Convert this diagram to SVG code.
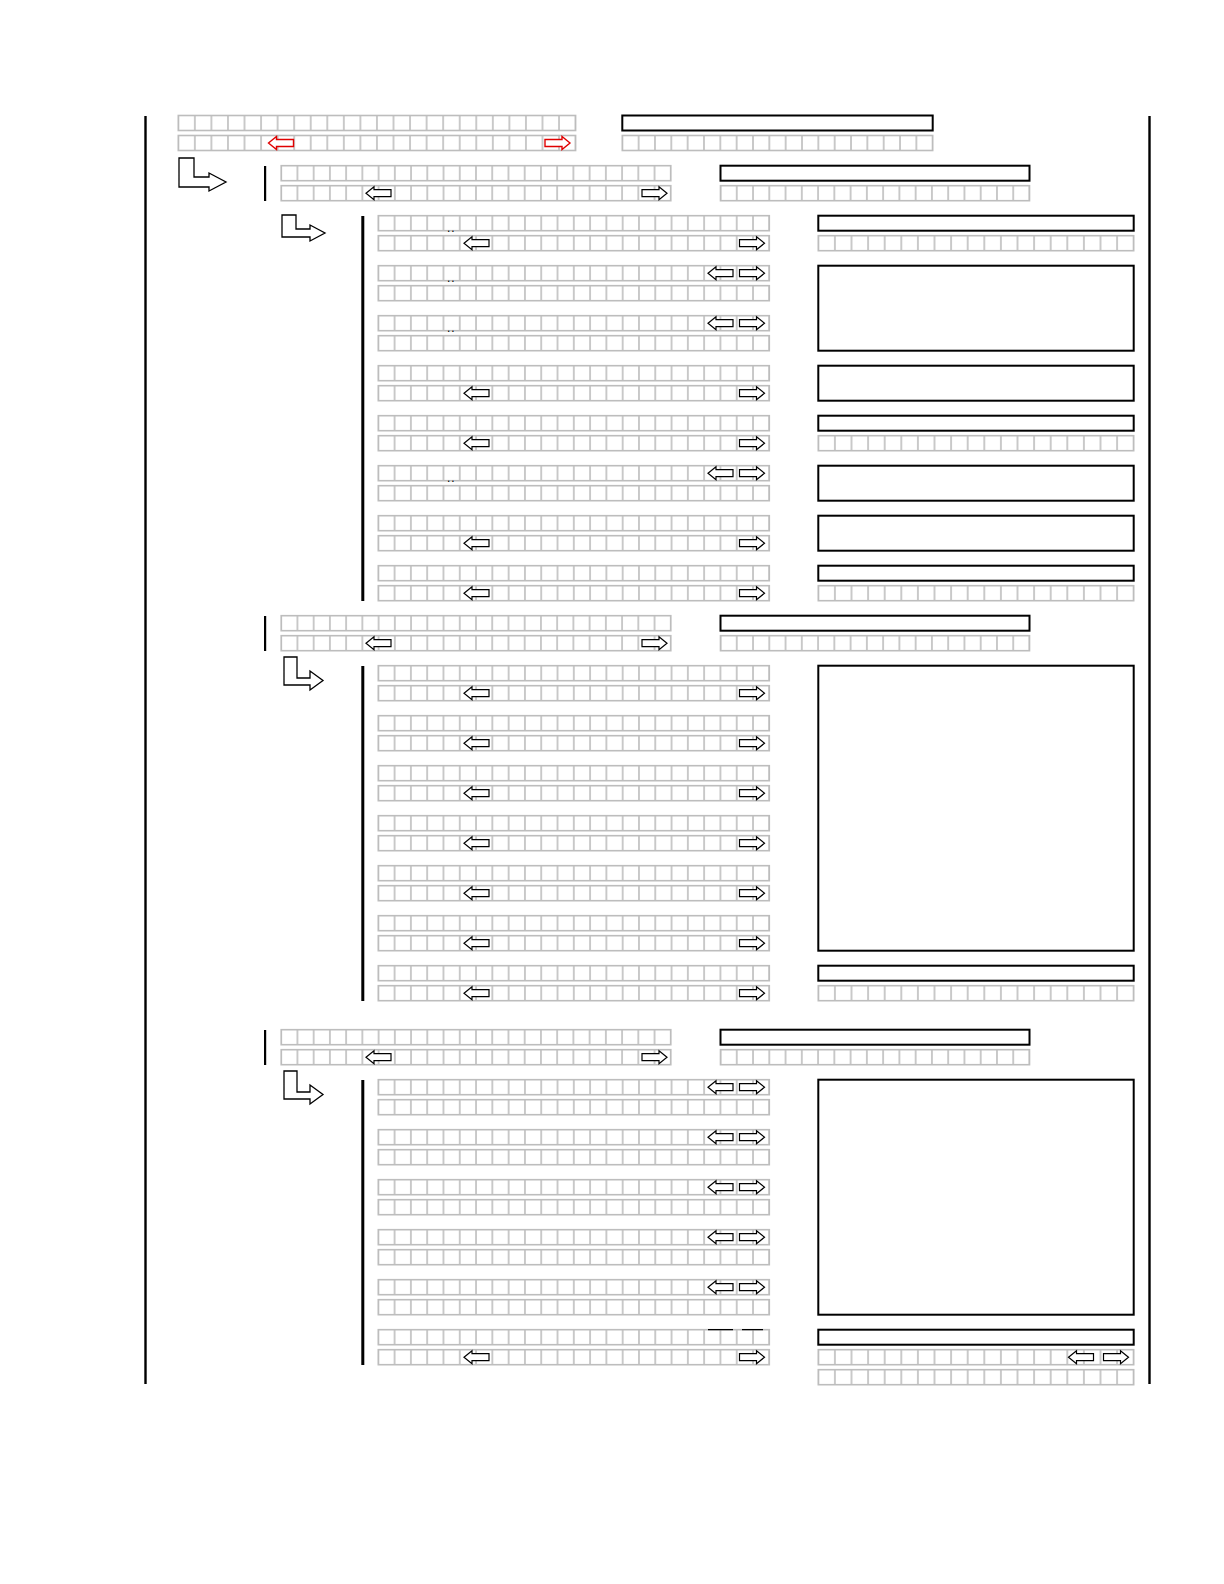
<svg xmlns="http://www.w3.org/2000/svg" xmlns:xlink="http://www.w3.org/1999/xlink" width="1224" height="1584" viewBox="0 0 1224 1584">
<style>
.g{stroke:#bdbdbd;stroke-width:1.6}
.gA{fill:url(#pA)} .gB{fill:url(#pB)} .gC{fill:url(#pC)}
.gD{fill:url(#pD)} .gE{fill:url(#pE)} .gF{fill:url(#pF)}
.bx{fill:#fff;stroke:#000;stroke-width:2}
.ab{fill:#fff;stroke:#000;stroke-width:1.2}
.rd{fill:#fff;stroke:#e00000;stroke-width:1.4}
.la{fill:#fff;stroke:#000;stroke-width:1.3}
.bar{fill:#000}
.dt{font-family:"Liberation Sans",Arial,sans-serif;font-size:12px;letter-spacing:1px;fill:#000}
</style>
<defs>
<pattern id="pA" patternUnits="userSpaceOnUse" x="178.3" y="0" width="16.554" height="20"><rect x="0" y="0" width="0.8" height="20" fill="#bdbdbd"/><rect x="15.754" y="0" width="0.8" height="20" fill="#bdbdbd"/></pattern>
<pattern id="pB" patternUnits="userSpaceOnUse" x="281.2" y="0" width="16.233" height="20"><rect x="0" y="0" width="0.8" height="20" fill="#bdbdbd"/><rect x="15.433" y="0" width="0.8" height="20" fill="#bdbdbd"/></pattern>
<pattern id="pC" patternUnits="userSpaceOnUse" x="378.3" y="0" width="16.292" height="20"><rect x="0" y="0" width="0.8" height="20" fill="#bdbdbd"/><rect x="15.492" y="0" width="0.8" height="20" fill="#bdbdbd"/></pattern>
<pattern id="pD" patternUnits="userSpaceOnUse" x="622.3" y="0" width="16.337" height="20"><rect x="0" y="0" width="0.8" height="20" fill="#bdbdbd"/><rect x="15.537" y="0" width="0.8" height="20" fill="#bdbdbd"/></pattern>
<pattern id="pE" patternUnits="userSpaceOnUse" x="720.5" y="0" width="16.263" height="20"><rect x="0" y="0" width="0.8" height="20" fill="#bdbdbd"/><rect x="15.463" y="0" width="0.8" height="20" fill="#bdbdbd"/></pattern>
<pattern id="pF" patternUnits="userSpaceOnUse" x="818.3" y="0" width="16.6" height="20"><rect x="0" y="0" width="0.8" height="20" fill="#bdbdbd"/><rect x="15.8" y="0" width="0.8" height="20" fill="#bdbdbd"/></pattern>
<path id="al" d="M0,0 L8,-6.5 V-3.5 H25 V3.5 H8 V6.5 Z"/>
<path id="ar" d="M0,0 L-8,-6.5 V-3.5 H-25 V3.5 H-8 V6.5 Z"/>
</defs>
<rect x="0" y="0" width="1224" height="1584" fill="#fff"/>

<g id="frame">
<rect class="bar" x="144.3" y="116" width="2.4" height="1268"/>
<rect class="bar" x="1148.3" y="116" width="2.4" height="1268"/>
</g>

<g id="connectors">
<path class="la" d="M179,158 H194 V177 H209 V173 L226,182 L209,191 V187 H179 Z"/>
<path class="la" d="M282,215 H296 V229 H310 V225 L325,233 L310,241 V237 H282 Z"/>
<path class="la" d="M284,657 H297 V678 H310 V671 L323,680.5 L310,690 V685 H284 Z"/>
<path class="la" d="M284,1071 H297 V1092 H310 V1085 L323,1094.5 L310,1104 V1099 H284 Z"/>
<rect class="bar" x="264" y="166" width="2.2" height="35"/>
<rect class="bar" x="264" y="616" width="2.2" height="35"/>
<rect class="bar" x="264" y="1030" width="2.2" height="35"/>
<rect class="bar" x="361.3" y="216" width="3" height="385"/>
<rect class="bar" x="361.3" y="666" width="3" height="335"/>
<rect class="bar" x="361.3" y="1080" width="3" height="285"/>
</g>

<!-- Top level -->
<g id="n-top">
<rect class="g gA" x="178.3" y="115.5" width="397.3" height="15"/>
<rect class="g gA" x="178.3" y="135.5" width="397.3" height="15"/>
<use href="#al" class="rd" x="268.5" y="143"/>
<use href="#ar" class="rd" x="570" y="143"/>
</g>
<g id="n-top-r">
<rect class="bx" x="622.3" y="115.5" width="310.4" height="15"/>
<rect class="g gD" x="622.3" y="135.5" width="310.4" height="15"/>
</g>

<!-- Block 1 level 2 -->
<g id="n-b1">
<rect class="g gB" x="281.2" y="165.7" width="389.6" height="15"/>
<rect class="g gB" x="281.2" y="185.7" width="389.6" height="15"/>
<use href="#al" class="ab" x="366" y="193.2"/>
<use href="#ar" class="ab" x="667" y="193.2"/>
</g>
<g id="n-b1-r">
<rect class="bx" x="720.5" y="165.7" width="309" height="15"/>
<rect class="g gE" x="720.5" y="185.7" width="309" height="15"/>
</g>

<!-- Block 1 level 3 -->
<g id="n-b1-0">
<rect class="g gC" x="378.3" y="215.7" width="391" height="15"/>
<rect class="g gC" x="378.3" y="235.7" width="391" height="15"/>
<text class="dt" x="447" y="232.4">..</text>
<use href="#al" class="ab" x="464" y="243.2"/>
<use href="#ar" class="ab" x="764.5" y="243.2"/>
</g>
<g id="n-b1-1">
<rect class="g gC" x="378.3" y="265.7" width="391" height="15"/>
<rect class="g gC" x="378.3" y="285.7" width="391" height="15"/>
<text class="dt" x="447" y="282.4">..</text>
<use href="#al" class="ab" x="708" y="273.2"/>
<use href="#ar" class="ab" x="764.5" y="273.2"/>
</g>
<g id="n-b1-2">
<rect class="g gC" x="378.3" y="315.7" width="391" height="15"/>
<rect class="g gC" x="378.3" y="335.7" width="391" height="15"/>
<text class="dt" x="447" y="332.4">..</text>
<use href="#al" class="ab" x="708" y="323.2"/>
<use href="#ar" class="ab" x="764.5" y="323.2"/>
</g>
<g id="n-b1-3">
<rect class="g gC" x="378.3" y="365.7" width="391" height="15"/>
<rect class="g gC" x="378.3" y="385.7" width="391" height="15"/>
<use href="#al" class="ab" x="464" y="393.2"/>
<use href="#ar" class="ab" x="764.5" y="393.2"/>
</g>
<g id="n-b1-4">
<rect class="g gC" x="378.3" y="415.7" width="391" height="15"/>
<rect class="g gC" x="378.3" y="435.7" width="391" height="15"/>
<use href="#al" class="ab" x="464" y="443.2"/>
<use href="#ar" class="ab" x="764.5" y="443.2"/>
</g>
<g id="n-b1-5">
<rect class="g gC" x="378.3" y="465.7" width="391" height="15"/>
<rect class="g gC" x="378.3" y="485.7" width="391" height="15"/>
<text class="dt" x="447" y="482.4">..</text>
<use href="#al" class="ab" x="708" y="473.2"/>
<use href="#ar" class="ab" x="764.5" y="473.2"/>
</g>
<g id="n-b1-6">
<rect class="g gC" x="378.3" y="515.7" width="391" height="15"/>
<rect class="g gC" x="378.3" y="535.7" width="391" height="15"/>
<use href="#al" class="ab" x="464" y="543.2"/>
<use href="#ar" class="ab" x="764.5" y="543.2"/>
</g>
<g id="n-b1-7">
<rect class="g gC" x="378.3" y="565.7" width="391" height="15"/>
<rect class="g gC" x="378.3" y="585.7" width="391" height="15"/>
<use href="#al" class="ab" x="464" y="593.2"/>
<use href="#ar" class="ab" x="764.5" y="593.2"/>
</g>
<g id="n-b1-r3">
<rect class="bx" x="818.3" y="215.7" width="315.4" height="15"/>
<rect class="g gF" x="818.3" y="235.7" width="315.4" height="15"/>
<rect class="bx" x="818.3" y="265.7" width="315.4" height="85"/>
<rect class="bx" x="818.3" y="365.7" width="315.4" height="35"/>
<rect class="bx" x="818.3" y="415.7" width="315.4" height="15"/>
<rect class="g gF" x="818.3" y="435.7" width="315.4" height="15"/>
<rect class="bx" x="818.3" y="465.7" width="315.4" height="35"/>
<rect class="bx" x="818.3" y="515.7" width="315.4" height="35"/>
<rect class="bx" x="818.3" y="565.7" width="315.4" height="15"/>
<rect class="g gF" x="818.3" y="585.7" width="315.4" height="15"/>
</g>

<!-- Block 2 level 2 -->
<g id="n-b2">
<rect class="g gB" x="281.2" y="615.7" width="389.6" height="15"/>
<rect class="g gB" x="281.2" y="635.7" width="389.6" height="15"/>
<use href="#al" class="ab" x="366" y="643.2"/>
<use href="#ar" class="ab" x="667" y="643.2"/>
</g>
<g id="n-b2-r">
<rect class="bx" x="720.5" y="615.7" width="309" height="15"/>
<rect class="g gE" x="720.5" y="635.7" width="309" height="15"/>
</g>

<!-- Block 2 level 3 -->
<g id="n-b2-0">
<rect class="g gC" x="378.3" y="665.7" width="391" height="15"/>
<rect class="g gC" x="378.3" y="685.7" width="391" height="15"/>
<use href="#al" class="ab" x="464" y="693.2"/>
<use href="#ar" class="ab" x="764.5" y="693.2"/>
</g>
<g id="n-b2-1">
<rect class="g gC" x="378.3" y="715.7" width="391" height="15"/>
<rect class="g gC" x="378.3" y="735.7" width="391" height="15"/>
<use href="#al" class="ab" x="464" y="743.2"/>
<use href="#ar" class="ab" x="764.5" y="743.2"/>
</g>
<g id="n-b2-2">
<rect class="g gC" x="378.3" y="765.7" width="391" height="15"/>
<rect class="g gC" x="378.3" y="785.7" width="391" height="15"/>
<use href="#al" class="ab" x="464" y="793.2"/>
<use href="#ar" class="ab" x="764.5" y="793.2"/>
</g>
<g id="n-b2-3">
<rect class="g gC" x="378.3" y="815.7" width="391" height="15"/>
<rect class="g gC" x="378.3" y="835.7" width="391" height="15"/>
<use href="#al" class="ab" x="464" y="843.2"/>
<use href="#ar" class="ab" x="764.5" y="843.2"/>
</g>
<g id="n-b2-4">
<rect class="g gC" x="378.3" y="865.7" width="391" height="15"/>
<rect class="g gC" x="378.3" y="885.7" width="391" height="15"/>
<use href="#al" class="ab" x="464" y="893.2"/>
<use href="#ar" class="ab" x="764.5" y="893.2"/>
</g>
<g id="n-b2-5">
<rect class="g gC" x="378.3" y="915.7" width="391" height="15"/>
<rect class="g gC" x="378.3" y="935.7" width="391" height="15"/>
<use href="#al" class="ab" x="464" y="943.2"/>
<use href="#ar" class="ab" x="764.5" y="943.2"/>
</g>
<g id="n-b2-6">
<rect class="g gC" x="378.3" y="965.7" width="391" height="15"/>
<rect class="g gC" x="378.3" y="985.7" width="391" height="15"/>
<use href="#al" class="ab" x="464" y="993.2"/>
<use href="#ar" class="ab" x="764.5" y="993.2"/>
</g>
<g id="n-b2-r3">
<rect class="bx" x="818.3" y="665.7" width="315.4" height="285"/>
<rect class="bx" x="818.3" y="965.7" width="315.4" height="15"/>
<rect class="g gF" x="818.3" y="985.7" width="315.4" height="15"/>
</g>

<!-- Block 3 level 2 -->
<g id="n-b3">
<rect class="g gB" x="281.2" y="1029.7" width="389.6" height="15"/>
<rect class="g gB" x="281.2" y="1049.7" width="389.6" height="15"/>
<use href="#al" class="ab" x="366" y="1057.2"/>
<use href="#ar" class="ab" x="667" y="1057.2"/>
</g>
<g id="n-b3-r">
<rect class="bx" x="720.5" y="1029.7" width="309" height="15"/>
<rect class="g gE" x="720.5" y="1049.7" width="309" height="15"/>
</g>

<!-- Block 3 level 3 -->
<g id="n-b3-0">
<rect class="g gC" x="378.3" y="1079.7" width="391" height="15"/>
<rect class="g gC" x="378.3" y="1099.7" width="391" height="15"/>
<use href="#al" class="ab" x="708" y="1087.2"/>
<use href="#ar" class="ab" x="764.5" y="1087.2"/>
</g>
<g id="n-b3-1">
<rect class="g gC" x="378.3" y="1129.7" width="391" height="15"/>
<rect class="g gC" x="378.3" y="1149.7" width="391" height="15"/>
<use href="#al" class="ab" x="708" y="1137.2"/>
<use href="#ar" class="ab" x="764.5" y="1137.2"/>
</g>
<g id="n-b3-2">
<rect class="g gC" x="378.3" y="1179.7" width="391" height="15"/>
<rect class="g gC" x="378.3" y="1199.7" width="391" height="15"/>
<use href="#al" class="ab" x="708" y="1187.2"/>
<use href="#ar" class="ab" x="764.5" y="1187.2"/>
</g>
<g id="n-b3-3">
<rect class="g gC" x="378.3" y="1229.7" width="391" height="15"/>
<rect class="g gC" x="378.3" y="1249.7" width="391" height="15"/>
<use href="#al" class="ab" x="708" y="1237.2"/>
<use href="#ar" class="ab" x="764.5" y="1237.2"/>
</g>
<g id="n-b3-4">
<rect class="g gC" x="378.3" y="1279.7" width="391" height="15"/>
<rect class="g gC" x="378.3" y="1299.7" width="391" height="15"/>
<use href="#al" class="ab" x="708" y="1287.2"/>
<use href="#ar" class="ab" x="764.5" y="1287.2"/>
</g>
<g id="n-b3-5">
<rect class="g gC" x="378.3" y="1329.7" width="391" height="15"/>
<rect class="g gC" x="378.3" y="1349.7" width="391" height="15"/>
<path d="M708,1329.7 H733 M742,1329.7 H763" stroke="#000" stroke-width="1.2" fill="none"/>
<use href="#al" class="ab" x="464" y="1357.2"/>
<use href="#ar" class="ab" x="764.5" y="1357.2"/>
</g>
<g id="n-b3-r3">
<rect class="bx" x="818.3" y="1079.7" width="315.4" height="235"/>
<rect class="bx" x="818.3" y="1329.7" width="315.4" height="15"/>
<rect class="g gF" x="818.3" y="1349.7" width="315.4" height="15"/>
<use href="#al" class="ab" x="1068.5" y="1357.2"/>
<use href="#ar" class="ab" x="1128.5" y="1357.2"/>
<rect class="g gF" x="818.3" y="1369.7" width="315.4" height="15"/>
</g>
</svg>
